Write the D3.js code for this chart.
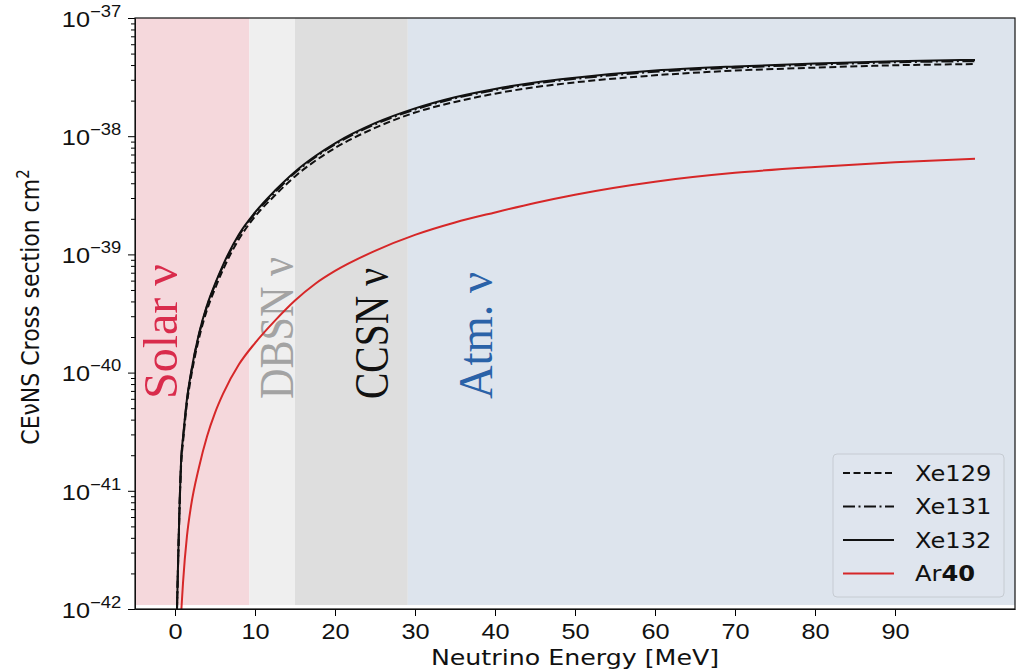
<!DOCTYPE html>
<html>
<head>
<meta charset="utf-8">
<script src="https://cdn.jsdelivr.net/npm/d3@7"></script>
<style>
  body { margin: 0; background: #fff; }
  svg { display: block; font-family: "DejaVu Sans", sans-serif; }
</style>
</head>
<body>
<svg id="svg_chart" width="1024" height="671"></svg>
<script>
// energies (MeV) and log10 of the cross section (cm^2)
var xeEnergy = [0.25, 0.8, 1, 1.5, 2, 3, 4, 5, 6, 8, 10, 12.5, 15, 17.5, 20, 25, 30, 35, 40, 45, 50, 60, 70, 80, 90, 100];
var xe129Log = [-42.0, -40.74, -40.59, -40.26, -40.04, -39.71, -39.47, -39.29, -39.13, -38.87, -38.68, -38.50, -38.34, -38.21, -38.10, -37.93, -37.80, -37.71, -37.64, -37.585, -37.545, -37.485, -37.445, -37.42, -37.40, -37.39];
var xe131Log = [-42.0, -40.71, -40.56, -40.23, -40.01, -39.68, -39.44, -39.26, -39.10, -38.84, -38.655, -38.475, -38.31, -38.18, -38.07, -37.90, -37.775, -37.68, -37.61, -37.555, -37.515, -37.455, -37.42, -37.395, -37.375, -37.365];
var xe132Log = [-42.0, -40.70, -40.55, -40.22, -40.00, -39.67, -39.43, -39.25, -39.09, -38.83, -38.645, -38.46, -38.30, -38.17, -38.06, -37.89, -37.765, -37.67, -37.60, -37.545, -37.505, -37.445, -37.41, -37.385, -37.365, -37.355];

var arEnergy = [0.8, 1, 1.5, 2, 3, 4, 5, 6, 8, 10, 12.5, 15, 17.5, 20, 25, 30, 35, 40, 45, 50, 60, 70, 80, 90, 100];
var ar40Log = [-42.0, -41.78, -41.38, -41.13, -40.80, -40.54, -40.34, -40.18, -39.93, -39.75, -39.56, -39.39, -39.25, -39.14, -38.97, -38.835, -38.73, -38.645, -38.565, -38.495, -38.385, -38.31, -38.26, -38.22, -38.19];

// neutrino source bands (MeV)
var bandNames = ["Solar ν", "DBSN ν", "CCSN ν", "Atm. ν"];
var bandStart = [-5, 9.3, 15, 29.1];
var bandEnd = [9.3, 15, 29.1, 105];
var labelEnergy = [0.3, 14.8, 26.6, 39.6];

var xTicks = [0, 10, 20, 30, 40, 50, 60, 70, 80, 90];
var yExponents = [-42, -41, -40, -39, -38, -37];

// styles
var bandFill = ["#f5d8dc", "#efefef", "#dedede", "#dde4ed"];
var bandText = ["#d92c4c", "#a3a3a3", "#111111", "#2a62a8"];
var labelLen = [135, 142, 131, 127];
var stretch = "scale(1.15,1)"; // the picture is a bit wider than tall

var svg = d3.select("svg#svg_chart");
var margin = {top: 18, right: 9, bottom: 62, left: 135};
var width = +svg.attr("width") - margin.left - margin.right;
var height = +svg.attr("height") - margin.top - margin.bottom;

var x = d3.scaleLinear().domain([-5, 105]).range([0, width]);
var y = d3.scaleLog().domain([1e-42, 1e-37]).range([height, 0]);

var g = svg.append("g")
  .attr("transform", "translate(" + margin.left + "," + margin.top + ")");

g.append("clipPath").attr("id", "plot_clip")
  .append("rect").attr("width", width).attr("height", height);

// background bands
var bands = bandNames.map(function(n, i) {
  return {name: n, x0: bandStart[i], x1: bandEnd[i], fill: bandFill[i]};
});
g.selectAll("rect.band")
  .data(bands)
  .enter().append("rect")
  .attr("class", "band")
  .attr("x", function(d) { return x(d.x0); })
  .attr("width", function(d) { return x(d.x1) - x(d.x0); })
  .attr("y", 0)
  .attr("height", y(1.08e-42))
  .attr("fill", function(d) { return d.fill; });

// band labels, rotated
bandNames.forEach(function(n, i) {
  g.append("text")
    .attr("transform", "translate(" + x(labelEnergy[i]) + "," + (height - 210) + ") " + stretch + " rotate(-90)")
    .attr("font-family", "'Liberation Serif', serif")
    .attr("font-size", 42)
    .attr("textLength", labelLen[i])
    .attr("lengthAdjust", "spacingAndGlyphs")
    .attr("fill", bandText[i])
    .text(n);
});

// curves
var line = d3.line()
  .curve(d3.curveMonotoneX)
  .x(function(d) { return x(d[0]); })
  .y(function(d) { return y(Math.pow(10, d[1])); });

var series = [
  {name: "Xe129", e: xeEnergy, v: xe129Log, color: "#111", dash: "7,3.5"},
  {name: "Xe131", e: xeEnergy, v: xe131Log, color: "#111", dash: "12,3.5,2,3.5"},
  {name: "Xe132", e: xeEnergy, v: xe132Log, color: "#111", dash: null},
  {name: "Ar40", e: arEnergy, v: ar40Log, color: "#d62728", dash: null}
];

var plot = g.append("g").attr("clip-path", "url(#plot_clip)");
series.forEach(function(s) {
  plot.append("path")
    .datum(d3.zip(s.e, s.v))
    .attr("fill", "none")
    .attr("stroke", s.color)
    .attr("stroke-width", 2)
    .attr("stroke-dasharray", s.dash)
    .attr("d", line);
});

// axes
var xAxis = g.append("g")
  .attr("transform", "translate(0," + height + ")")
  .call(d3.axisBottom(x).tickValues(xTicks).tickSize(7).tickPadding(7).tickSizeOuter(0));
xAxis.selectAll("text").attr("font-size", 22).attr("fill", "#111").attr("transform", stretch);

var minor = [];
for (var k = -42; k < -37; k++) {
  for (var m = 2; m <= 9; m++) minor.push(m * Math.pow(10, k));
}
g.append("g")
  .call(d3.axisLeft(y).tickValues(minor).tickSize(4).tickFormat("").tickSizeOuter(0))
  .select(".domain").remove();

var yAxis = g.append("g")
  .call(d3.axisLeft(y).tickValues(yExponents.map(function(p) { return Math.pow(10, p); }))
    .tickSize(7).tickPadding(5).tickSizeOuter(0).tickFormat(""));
yAxis.selectAll(".tick text").each(function(d, i) {
  var t = d3.select(this).attr("font-size", 22).attr("fill", "#111")
    .attr("dy", "0.38em").attr("transform", stretch);
  t.append("tspan").text("10");
  t.append("tspan").attr("font-size", 16).attr("dy", -10)
    .text("\u2212" + Math.abs(yExponents[i]));
});

// frame
g.append("rect")
  .attr("width", width).attr("height", height)
  .attr("fill", "none").attr("stroke", "#111").attr("stroke-width", 1.2);
g.selectAll(".domain").attr("stroke", "#111");

// axis titles
svg.append("text")
  .attr("transform", "translate(" + (margin.left + width / 2) + ",665) " + stretch)
  .attr("text-anchor", "middle")
  .attr("font-size", 22)
  .attr("fill", "#111")
  .text("Neutrino Energy [MeV]");

var yl = svg.append("text")
  .attr("transform", "translate(39,307) " + stretch + " rotate(-90)")
  .attr("text-anchor", "middle")
  .attr("font-size", 22)
  .attr("fill", "#111");
yl.append("tspan").text("CEνNS Cross section cm");
yl.append("tspan").attr("font-size", 15).attr("dy", -9).text("2");

// legend
var legend = svg.append("g").attr("transform", "translate(833,454)");
legend.append("rect")
  .attr("width", 171).attr("height", 143).attr("rx", 4)
  .attr("fill", "#dfe5ee").attr("stroke", "#c6cbd2").attr("stroke-width", 1);
series.forEach(function(s, i) {
  var row = legend.append("g").attr("transform", "translate(0," + (19 + i * 33.5) + ")");
  row.append("line")
    .attr("x1", 10).attr("x2", 61)
    .attr("stroke", s.color).attr("stroke-width", 2)
    .attr("stroke-dasharray", s.dash);
  var t = row.append("text")
    .attr("transform", "translate(82,0) " + stretch)
    .attr("dy", "0.36em")
    .attr("font-size", 21).attr("fill", "#111");
  if (s.name === "Ar40") {
    t.append("tspan").text("Ar");
    t.append("tspan").attr("font-weight", "bold").text("40");
  } else {
    t.text(s.name);
  }
});
</script>
</body>
</html>
